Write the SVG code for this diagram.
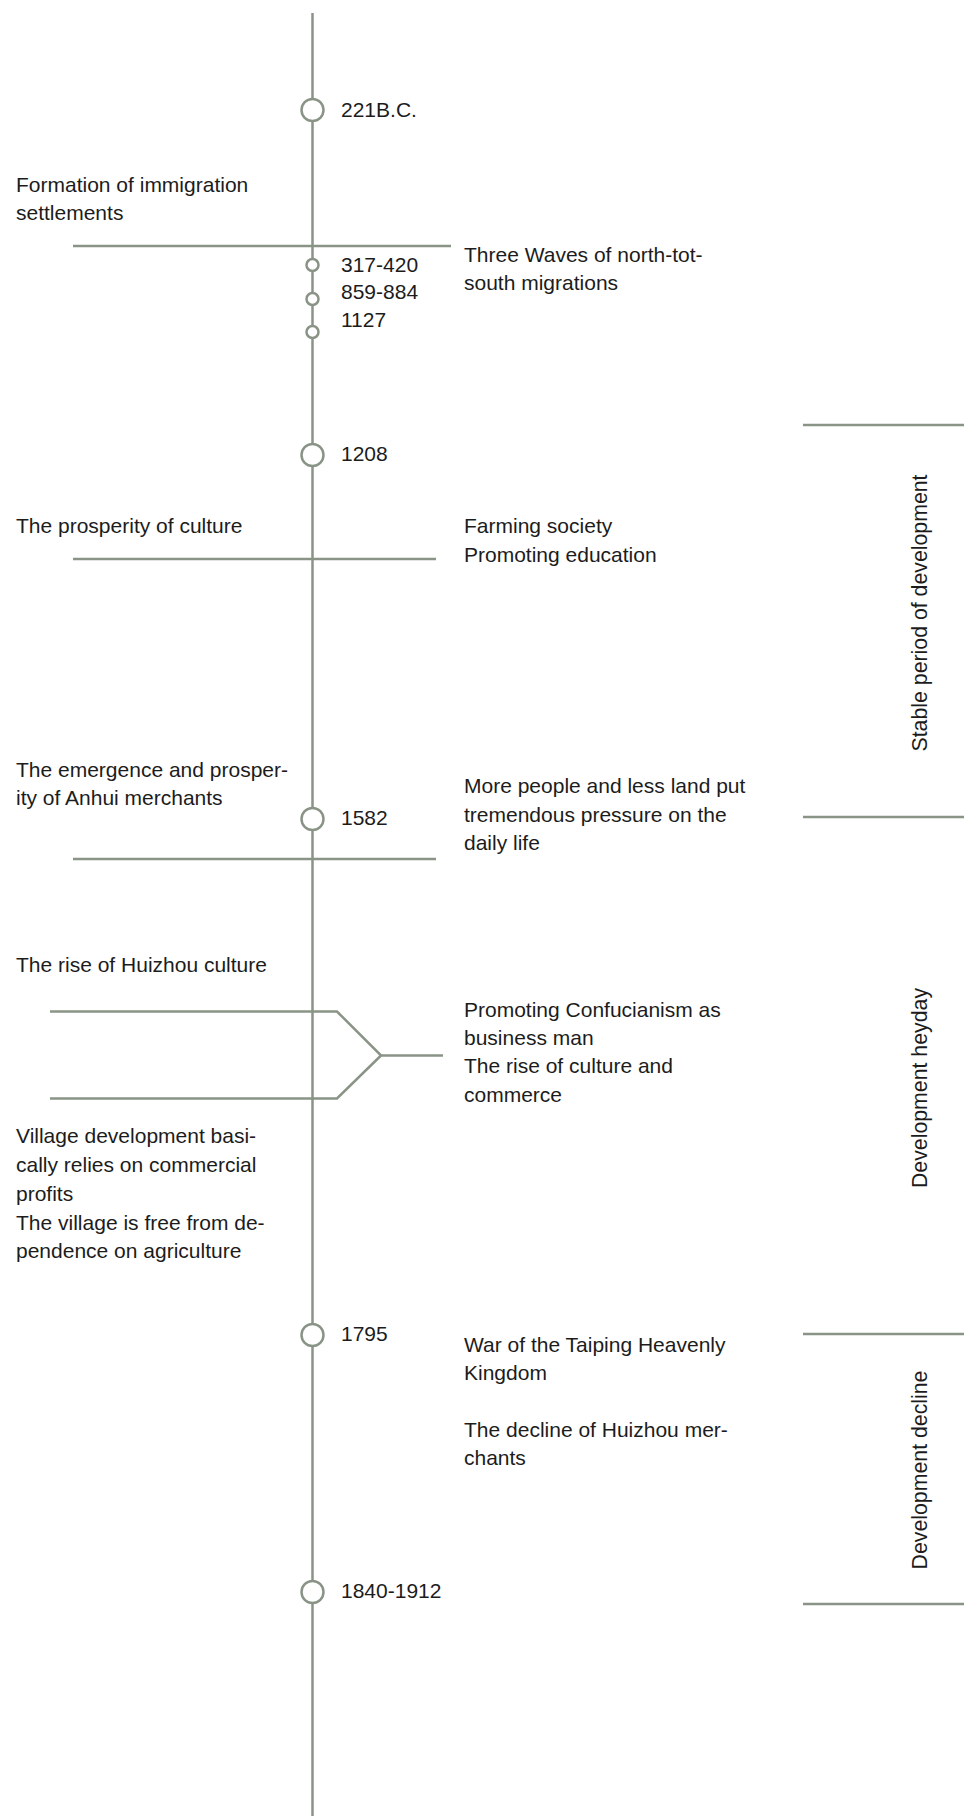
<svg xmlns="http://www.w3.org/2000/svg" width="964" height="1816" viewBox="0 0 964 1816">
  <style>
    .ln { stroke: #8a9486; stroke-width: 2.5; fill: none; }
    .dot { stroke: #8a9486; stroke-width: 2.5; fill: #ffffff; }
    text { font-family: "Liberation Sans", Arial, sans-serif; font-size: 21px; fill: #1c1c1c; }
    .side { font-size: 21.3px; text-anchor: middle; }
  </style>
  <rect width="964" height="1816" fill="#ffffff"/>

  <!-- spine, branch lines and period dividers -->
  <g id="connectors">
    <line class="ln" x1="312.5" y1="13" x2="312.5" y2="1816"/>
    <line class="ln" x1="73" y1="246" x2="451" y2="246"/>
    <line class="ln" x1="73" y1="559" x2="436" y2="559"/>
    <line class="ln" x1="73" y1="859" x2="436" y2="859"/>
    <polyline class="ln" points="50,1011.5 337,1011.5 381,1055.5 443,1055.5"/>
    <polyline class="ln" points="50,1098.5 337,1098.5 381,1055.5"/>
    <line class="ln" x1="803" y1="425" x2="964" y2="425"/>
    <line class="ln" x1="803" y1="817" x2="964" y2="817"/>
    <line class="ln" x1="803" y1="1334" x2="964" y2="1334"/>
    <line class="ln" x1="803" y1="1604" x2="964" y2="1604"/>
  </g>

  <!-- dated points on the spine -->
  <g id="node-221bc">
    <circle class="dot" cx="312.5" cy="110" r="11"/>
    <text x="341" y="117">221B.C.</text>
  </g>
  <g id="node-migrations">
    <circle class="dot" cx="312.5" cy="265" r="6"/>
    <circle class="dot" cx="312.5" cy="299" r="6"/>
    <circle class="dot" cx="312.5" cy="332" r="6"/>
    <text x="341" y="272">317-420</text>
    <text x="341" y="299">859-884</text>
    <text x="341" y="327">1127</text>
  </g>
  <g id="node-1208">
    <circle class="dot" cx="312.5" cy="455" r="11"/>
    <text x="341" y="461">1208</text>
  </g>
  <g id="node-1582">
    <circle class="dot" cx="312.5" cy="819" r="11"/>
    <text x="341" y="825">1582</text>
  </g>
  <g id="node-1795">
    <circle class="dot" cx="312.5" cy="1335" r="11"/>
    <text x="341" y="1341">1795</text>
  </g>
  <g id="node-1840">
    <circle class="dot" cx="312.5" cy="1592" r="11"/>
    <text x="341" y="1598">1840-1912</text>
  </g>

  <!-- left-hand notes -->
  <g id="note-settlements">
    <text x="16" y="192">Formation of immigration</text>
    <text x="16" y="220">settlements</text>
  </g>
  <g id="note-culture">
    <text x="16" y="533">The prosperity of culture</text>
  </g>
  <g id="note-anhui">
    <text x="16" y="777">The emergence and prosper-</text>
    <text x="16" y="805">ity of Anhui merchants</text>
  </g>
  <g id="note-huizhou">
    <text x="16" y="972">The rise of Huizhou culture</text>
  </g>
  <g id="note-village">
    <text x="16" y="1143">Village development basi-</text>
    <text x="16" y="1172">cally relies on commercial</text>
    <text x="16" y="1201">profits</text>
    <text x="16" y="1230">The village is free from de-</text>
    <text x="16" y="1258">pendence on agriculture</text>
  </g>

  <!-- right-hand notes -->
  <g id="note-waves">
    <text x="464" y="262">Three Waves of north-tot-</text>
    <text x="464" y="290">south migrations</text>
  </g>
  <g id="note-farming">
    <text x="464" y="533">Farming society</text>
    <text x="464" y="562">Promoting education</text>
  </g>
  <g id="note-pressure">
    <text x="464" y="793">More people and less land put</text>
    <text x="464" y="822">tremendous pressure on the</text>
    <text x="464" y="850">daily life</text>
  </g>
  <g id="note-confucianism">
    <text x="464" y="1017">Promoting Confucianism as</text>
    <text x="464" y="1045">business man</text>
    <text x="464" y="1073">The rise of culture and</text>
    <text x="464" y="1102">commerce</text>
  </g>
  <g id="note-taiping">
    <text x="464" y="1352">War of the Taiping Heavenly</text>
    <text x="464" y="1380">Kingdom</text>
    <text x="464" y="1437">The decline of Huizhou mer-</text>
    <text x="464" y="1465">chants</text>
  </g>

  <!-- period labels -->
  <g id="period-stable">
    <text class="side" transform="translate(926.5,613) rotate(-90)">Stable period of development</text>
  </g>
  <g id="period-heyday">
    <text class="side" transform="translate(926.5,1088) rotate(-90)">Development heyday</text>
  </g>
  <g id="period-decline">
    <text class="side" transform="translate(926.5,1470) rotate(-90)">Development decline</text>
  </g>
</svg>
